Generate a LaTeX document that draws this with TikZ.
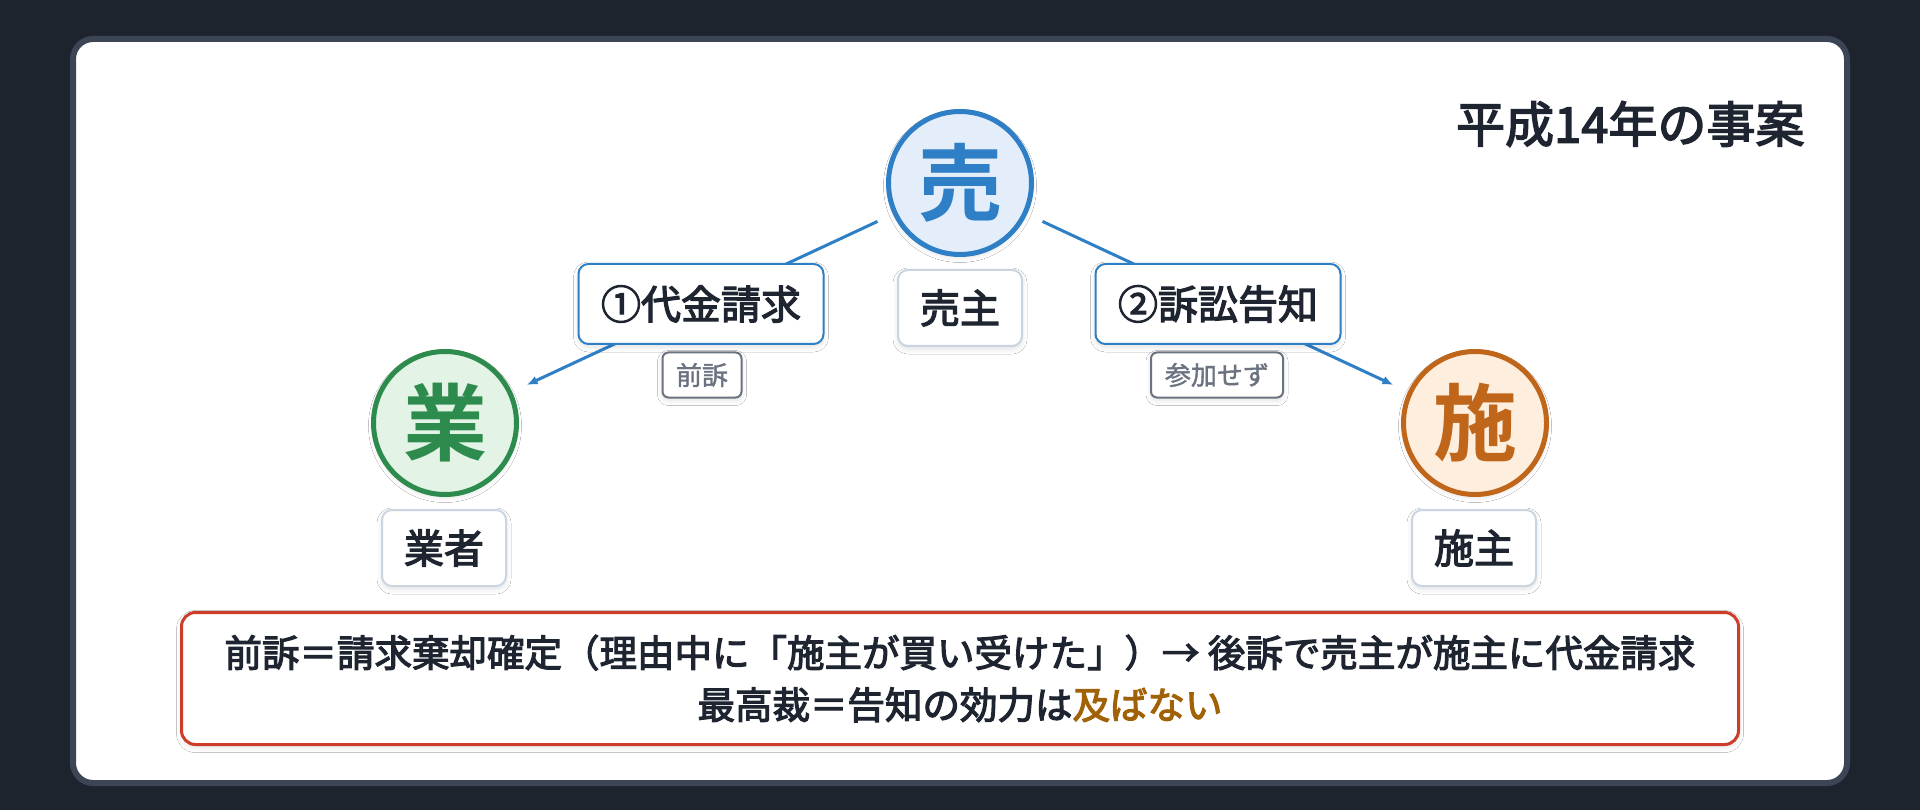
\documentclass[tikz,border=0pt]{standalone}
\usepackage{fontspec}
\setmainfont{Noto Sans CJK JP}[BoldFont={Noto Sans CJK JP Bold}]
\newfontfamily\midfont{Noto Sans CJK JP}[FakeBold=3]
\newfontfamily\tagfont{Noto Sans CJK JP}[FakeBold=1.5]
\usetikzlibrary{arrows.meta,shadows.blur}
\definecolor{bgdark}{HTML}{1E242E}
\definecolor{panelborder}{HTML}{3C4556}
\definecolor{ink}{HTML}{1F2530}
\definecolor{sellblue}{HTML}{2F7FC6}
\definecolor{sellfill}{HTML}{E3EEFA}
\definecolor{gyogreen}{HTML}{2E8B4E}
\definecolor{gyofill}{HTML}{E3F4E6}
\definecolor{seorange}{HTML}{C0661A}
\definecolor{sefill}{HTML}{FDEEDE}
\definecolor{labelborder}{HTML}{CBD5E1}
\definecolor{taggray}{HTML}{6B7280}
\definecolor{notered}{HTML}{CC3D2A}
\definecolor{gold}{HTML}{A16207}
\tikzset{
  softshadow/.style={blur shadow={shadow blur steps=6, shadow xshift=0pt, shadow yshift=-3pt, shadow opacity=12, shadow blur radius=5pt}},
  party/.style 2 args={circle, draw=#1, fill=#2, text=#1, line width=5pt,
    minimum size=143pt, inner sep=0pt, softshadow,
    font=\fontsize{84}{84}\selectfont\bfseries},
  conn/.style={draw=sellblue, line width=3pt, -{Latex[length=11pt,width=9pt]},
    shorten <=17pt, shorten >=16pt},
  namebox/.style={draw=labelborder, line width=2pt, fill=white, rounded corners=10pt,
    minimum width=124pt, minimum height=76pt, inner sep=0pt, text=ink, softshadow,
    font=\midfont\fontsize{40}{40}\selectfont},
  claimbox/.style={draw=sellblue, line width=2pt, fill=white, rounded corners=10pt,
    minimum width=245pt, minimum height=80pt, inner sep=0pt, text=ink, softshadow,
    font=\midfont\fontsize{40}{40}\selectfont},
  tagbox/.style={draw=taggray, line width=2pt, fill=white, rounded corners=6pt,
    minimum height=45pt, inner sep=0pt, text=taggray, softshadow,
    font=\tagfont\fontsize{26}{26}\selectfont},
  notebox/.style={draw=notered, line width=3pt, fill=white, rounded corners=14pt,
    minimum width=1557pt, minimum height=132pt, inner sep=0pt, text=ink,
    align=center, softshadow,
    font=\midfont\fontsize{37.5}{52}\selectfont},
}
\begin{document}
\begin{tikzpicture}[x=1pt,y=-1pt]
\fill[bgdark] (0,0) rectangle (1920,810);
\useasboundingbox (0,0) rectangle (1920,810);
\draw[panelborder, line width=6pt, fill=white, rounded corners=20pt] (73,39) rectangle (1847,783);

\node[anchor=east, text=ink, font=\midfont\fontsize{49}{49}\selectfont] (title) at (1808,124) {平成14年の事案};

\node[party={sellblue}{sellfill}] (sell) at (960,183) {売};
\node[party={gyogreen}{gyofill}] (gyo) at (445,423) {業};
\node[party={seorange}{sefill}] (se) at (1475,423) {施};

\draw[conn] (sell) -- (gyo);
\draw[conn] (sell) -- (se);

\node[namebox] (sellname) at (960,308) {売主};
\node[namebox] (gyoname) at (444,548) {業者};
\node[namebox] (sename) at (1474,548) {施主};

\node[claimbox] (claim1) at (701,304) {①代金請求};
\node[claimbox] (claim2) at (1218,304) {②訴訟告知};

\node[tagbox, minimum width=79pt] (tag1) at (702,375) {前訴};
\node[tagbox, minimum width=132pt] (tag2) at (1217,375) {参加せず};

\node[notebox] (note) at (960,678.5) {前訴＝請求棄却確定（理由中に「施主が買い受けた」）→ 後訴で売主が施主に代金請求\\最高裁＝告知の効力は\textcolor{gold}{及ばない}};
\end{tikzpicture}
\end{document}
